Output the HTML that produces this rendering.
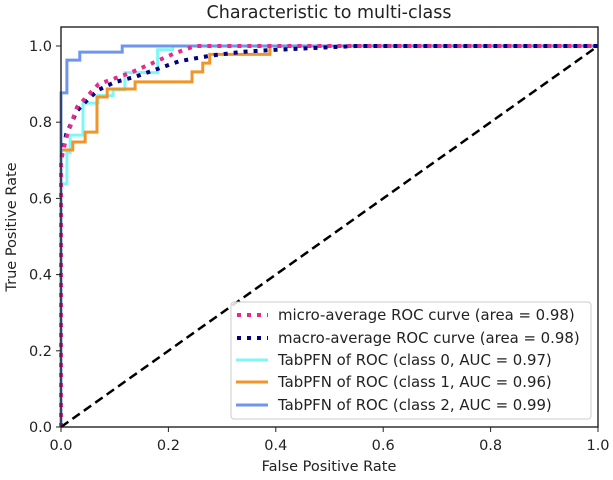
<!DOCTYPE html>
<html><head><meta charset="utf-8"><style>
body{margin:0;background:#fff}
svg text{font-family:"DejaVu Sans","Liberation Sans",sans-serif;fill:#222}
</style></head><body>
<svg width="613" height="475" viewBox="0 0 613 475" id="chart">
<rect x="0" y="0" width="613" height="475" fill="#fff"/>
<text x="329" y="18" font-size="17.5" text-anchor="middle">Characteristic to multi-class</text>
<g id="series"></g>
<rect x="61" y="27" width="537" height="400" fill="none" stroke="#222" stroke-width="1.4"/>
<g id="ticks"></g>
<text x="329" y="471" font-size="14.5" text-anchor="middle">False Positive Rate</text>
<text transform="translate(16,227) rotate(-90)" font-size="14.5" text-anchor="middle">True Positive Rate</text>
<g>
<rect x="231" y="302" width="360" height="117" rx="3" fill="#fff" fill-opacity="0.85" stroke="#ccc"/>
<g><line x1="237" y1="315" x2="268" y2="315" stroke="#e7298a" stroke-width="4" stroke-dasharray="4,6"/><text x="278" y="320" font-size="14.9">micro-average ROC curve (area = 0.98)</text></g>
<g><line x1="237" y1="338" x2="268" y2="338" stroke="#000080" stroke-width="4" stroke-dasharray="4,6"/><text x="278" y="343" font-size="14.9">macro-average ROC curve (area = 0.98)</text></g>
<g><line x1="236" y1="360" x2="268" y2="360" stroke="#7ff7f7" stroke-width="3"/><text x="278" y="365" font-size="14.9">TabPFN of ROC (class 0, AUC = 0.97)</text></g>
<g><line x1="236" y1="382" x2="268" y2="382" stroke="#f0952a" stroke-width="3"/><text x="278" y="387" font-size="14.9">TabPFN of ROC (class 1, AUC = 0.96)</text></g>
<g><line x1="236" y1="405" x2="268" y2="405" stroke="#6f95ee" stroke-width="3"/><text x="278" y="410" font-size="14.9">TabPFN of ROC (class 2, AUC = 0.99)</text></g>
</g>
</svg>
<script>
const xTicks=[0,0.2,0.4,0.6,0.8,1.0];
const yTicks=[0,0.2,0.4,0.6,0.8,1.0];
const class0Fpr=[0,0,0.011,0.011,0.017,0.017,0.041,0.041,0.069,0.069,0.097,0.097,0.119,0.119,0.18,0.18,0.208,0.208,1];
const class0Tpr=[0,0.638,0.638,0.72,0.72,0.766,0.766,0.85,0.85,0.87,0.87,0.885,0.885,0.93,0.93,0.99,0.99,1,1];
const class1Fpr=[0,0,0.022,0.022,0.045,0.045,0.067,0.067,0.086,0.086,0.138,0.138,0.244,0.244,0.264,0.264,0.277,0.277,0.389,0.389,1];
const class1Tpr=[0,0.727,0.727,0.748,0.748,0.774,0.774,0.866,0.866,0.887,0.887,0.906,0.906,0.932,0.932,0.955,0.955,0.978,0.978,1,1];
const class2Fpr=[0,0,0.011,0.011,0.035,0.035,0.114,0.114,1];
const class2Tpr=[0,0.877,0.877,0.963,0.963,0.984,0.984,1,1];
const microFpr=[0,0,0.01,0.02,0.03,0.05,0.07,0.1,0.13,0.17,0.21,0.25,1];
const microTpr=[0,0.7,0.76,0.8,0.84,0.87,0.9,0.915,0.93,0.955,0.98,1,1];
const macroFpr=[0,0,0.01,0.02,0.03,0.05,0.07,0.1,0.14,0.18,0.22,0.28,0.34,0.4,0.55,1];
const macroTpr=[0,0.7,0.77,0.8,0.83,0.86,0.885,0.905,0.92,0.94,0.96,0.975,0.985,0.99,1,1];
const NS='http://www.w3.org/2000/svg';
const sx=v=>61+v*537, sy=v=>427-v*381;
const ticks=document.getElementById('ticks'), ser=document.getElementById('series');
xTicks.forEach(t=>{
 const l=document.createElementNS(NS,'line');
 
 
 l.setAttribute('x1',sx(t));l.setAttribute('x2',sx(t));l.setAttribute('y1',427);l.setAttribute('y2',432);l.setAttribute('stroke','#222');
 ticks.appendChild(l);
 const tx=document.createElementNS(NS,'text');
 
 
 tx.setAttribute('x',sx(t));tx.setAttribute('y',450);tx.setAttribute('font-size','14.5');tx.setAttribute('text-anchor','middle');
 tx.textContent=t.toFixed(1);ticks.appendChild(tx);
});
yTicks.forEach(t=>{
 const l=document.createElementNS(NS,'line');
 
 
 l.setAttribute('x1',56);l.setAttribute('x2',61);l.setAttribute('y1',sy(t));l.setAttribute('y2',sy(t));l.setAttribute('stroke','#222');
 ticks.appendChild(l);
 const tx=document.createElementNS(NS,'text');
 
 
 tx.setAttribute('x',52);tx.setAttribute('y',sy(t)+5);tx.setAttribute('font-size','14.5');tx.setAttribute('text-anchor','end');
 tx.textContent=t.toFixed(1);ticks.appendChild(tx);
});
function line(xs,ys,color,w,dash,name){
 const p=document.createElementNS(NS,'polyline');
 
 
 p.setAttribute('points',xs.map((x,i)=>sx(x)+','+sy(ys[i])).join(' '));
 p.setAttribute('fill','none');p.setAttribute('stroke',color);p.setAttribute('stroke-width',w);
 if(dash)p.setAttribute('stroke-dasharray',dash);
 ser.appendChild(p);
}
line(class0Fpr,class0Tpr,'#7ff7f7',3,null,'class0-roc-curve');
line(class1Fpr,class1Tpr,'#f0952a',3,null,'class1-roc-curve');
line(class2Fpr,class2Tpr,'#6f95ee',3,null,'class2-roc-curve');
line(macroFpr,macroTpr,'#000080',4,'4,6','macro-average-curve');
line(microFpr,microTpr,'#e7298a',4,'4,6','micro-average-curve');
line([0,1],[0,1],'#000',2.5,'9,5','chance-diagonal');
</script>
</body></html>
